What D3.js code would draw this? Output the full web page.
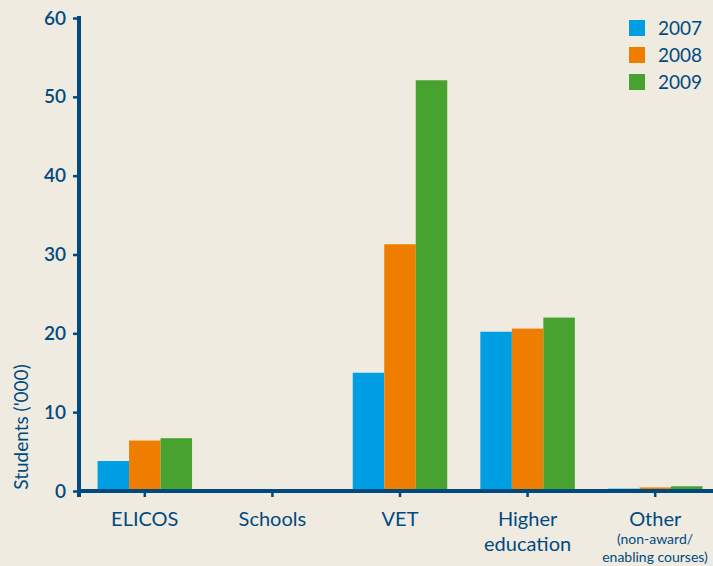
<!DOCTYPE html>
<html><head><meta charset="utf-8">
<script src="https://cdn.jsdelivr.net/npm/d3@7"></script>
<style>html,body{margin:0;padding:0;background:#f0ebe0;}svg{display:block;}</style>
</head><body>
<script>
const categories = ["ELICOS","Schools","VET","Higher education","Other"];
const categoryLines = [["ELICOS"],["Schools"],["VET"],["Higher","education"],["Other"]];
const series = ["2007","2008","2009"];
const values2007 = [3.8, 0, 15.0, 20.2, 0.3];
const values2008 = [6.4, 0, 31.3, 20.6, 0.45];
const values2009 = [6.7, 0, 52.1, 22.0, 0.6];
const yTicks = [0,10,20,30,40,50,60];
const colors = ["#009fe3","#ef7d00","#48a22f"];
const allValues = [values2007, values2008, values2009];

const W = 713, H = 566;
const navy = "#004a80";
const font = "Lato, 'Open Sans', sans-serif";
const svg = d3.select("body").append("svg").attr("width", W).attr("height", H);
svg.append("rect").attr("width", W).attr("height", H).attr("fill", "#f0ebe0");

const x0 = d3.scaleBand().domain(categories).range([81, 719]).paddingInner(0).paddingOuter(0);
const x1 = d3.scaleBand().domain(series).range([0, 94.5]);
const y = d3.scaleLinear().domain([0, 60]).range([491, 18]);

// bars
categories.forEach((c, i) => {
  const gx = x0(c) + x0.bandwidth()/2 - 47.25;
  series.forEach((s, j) => {
    const v = allValues[j][i];
    if (v <= 0) return;
    svg.append("rect")
      .attr("x", gx + x1(s)).attr("width", x1.bandwidth())
      .attr("y", y(v)).attr("height", y(0) - y(v))
      .attr("fill", colors[j]);
  });
});

// y axis
const ya = svg.append("g").attr("transform", "translate(79,0)")
  .call(d3.axisLeft(y).tickValues(yTicks).tickSize(6).tickPadding(7));
ya.select(".domain").remove();
ya.selectAll(".tick line").attr("stroke", navy).attr("stroke-width", 2.5);
ya.selectAll(".tick text").attr("fill", navy).attr("font-family", font)
  .attr("font-size", 19).attr("font-weight", 600);
svg.append("line").attr("x1", 79).attr("x2", 79).attr("y1", 16).attr("y2", 497)
  .attr("stroke", navy).attr("stroke-width", 4);

// x axis
const xa = svg.append("g").attr("transform", "translate(0,491)")
  .call(d3.axisBottom(x0).tickSize(6).tickFormat(""));
xa.select(".domain").remove();
xa.selectAll(".tick line").attr("stroke", navy).attr("stroke-width", 2.5);
svg.append("line").attr("x1", 77).attr("x2", W).attr("y1", 491).attr("y2", 491)
  .attr("stroke", navy).attr("stroke-width", 4);

// category labels
categories.forEach((c, i) => {
  const cx = x0(c) + x0.bandwidth()/2;
  const t = svg.append("text").attr("x", cx).attr("y", 526)
    .attr("text-anchor", "middle").attr("fill", navy)
    .attr("font-family", font).attr("font-size", 20);
  categoryLines[i].forEach((ln, k) => {
    t.append("tspan").attr("x", cx).attr("dy", k === 0 ? 0 : 25).text(ln);
  });
});
svg.append("text").attr("x", 655).attr("y", 544).attr("text-anchor", "middle")
  .attr("fill", navy).attr("font-family", font).attr("font-size", 14).text("(non-award/");
svg.append("text").attr("x", 655).attr("y", 562).attr("text-anchor", "middle")
  .attr("fill", navy).attr("font-family", font).attr("font-size", 14).text("enabling courses)");

// y title
svg.append("text").attr("transform", "translate(28,427) rotate(-90)")
  .attr("text-anchor", "middle").attr("fill", navy)
  .attr("font-family", font).attr("font-size", 19).text("Students ('000)");

// legend
series.forEach((s, j) => {
  const ly = 20 + j * 27;
  svg.append("rect").attr("x", 629).attr("y", ly).attr("width", 16).attr("height", 16).attr("fill", colors[j]);
  svg.append("text").attr("x", 658).attr("y", ly + 15).attr("fill", navy)
    .attr("font-family", font).attr("font-size", 19).text(s);
});
</script>
</body></html>
